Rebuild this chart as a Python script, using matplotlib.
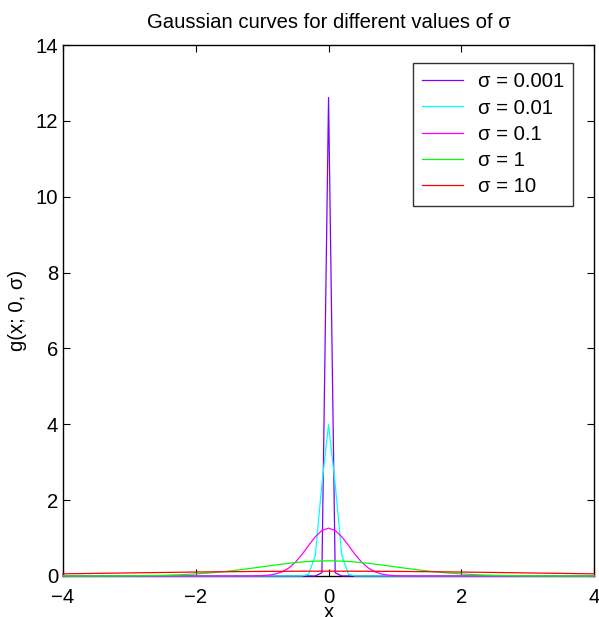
import numpy as np
import matplotlib

matplotlib.use("Agg")
import matplotlib.pyplot as plt

# curve parameters (the legend calls them sigma, the peaks match a variance)
sigma_values = [0.001, 0.01, 0.1, 1, 10]
legend_labels = ["σ = 0.001", "σ = 0.01", "σ = 0.1", "σ = 1", "σ = 10"]
line_colors = ["#8000ff", "#00ffff", "#ff00ff", "#00ff00", "#ff0000"]
x_start, x_stop, x_step = -4.0, 4.0, 0.1
x_ticks = [-4, -2, 0, 2, 4]
y_ticks = [0, 2, 4, 6, 8, 10, 12, 14]

plt.rcParams["font.family"] = ["Liberation Sans", "DejaVu Sans"]
fs = 14.6

fig = plt.figure(figsize=(5.99, 6.17), dpi=100)
ax = fig.add_axes([0.105, 0.0665, 0.887, 0.8605])

x = np.linspace(x_start, x_stop, int(round((x_stop - x_start) / x_step)) + 1)
for var, label, color in zip(sigma_values, legend_labels, line_colors):
    g = np.exp(-x ** 2 / (2 * var)) / np.sqrt(2 * np.pi * var)
    ax.plot(x, g, color=color, lw=0.9, label=label, zorder=3, clip_on=False)

ax.set_xlim(-4, 4)
ax.set_ylim(0, 14)
ax.set_xticks(x_ticks)
ax.set_xticklabels(["\u22124", "\u22122", "0", "2", "4"])
ax.set_yticks(y_ticks)
ax.tick_params(direction="in", top=True, right=True, labelsize=fs, length=5, width=0.8)
ax.tick_params(axis="x", pad=8.5)
ax.tick_params(axis="y", pad=3.5)
for s in ax.spines.values():
    s.set_linewidth(1.0)

ax.set_title("Gaussian curves for different values of σ", fontsize=fs, pad=12)
ax.set_xlabel("x", fontsize=fs, va="baseline")
ax.xaxis.set_label_coords(0.5, -0.079)
ax.set_ylabel("g(x; 0, σ)", fontsize=fs, va="center")
ax.yaxis.set_label_coords(-0.0847, 0.5)

leg = ax.legend(loc="upper right", fontsize=fs, frameon=True, fancybox=False,
                edgecolor="black", handlelength=2.0, borderpad=0.45, labelspacing=0.36,
                handletextpad=0.75, borderaxespad=0, bbox_to_anchor=(0.9605, 0.966))
leg.get_frame().set_linewidth(1.0)

fig.savefig("out.png", dpi=100)
